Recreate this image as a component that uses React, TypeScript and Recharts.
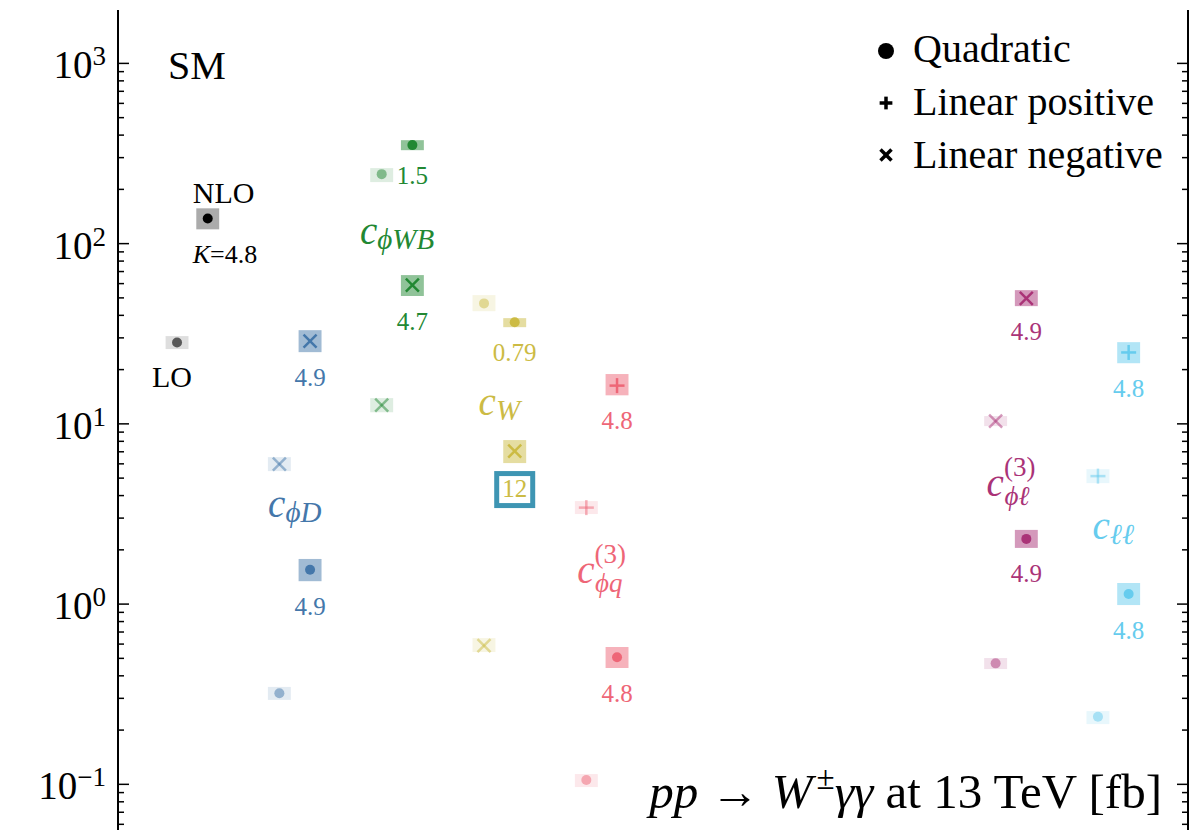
import React from 'react';
import { ScatterChart, Scatter, XAxis, YAxis, ReferenceArea, ReferenceDot } from 'recharts';

// ---------------- data ----------------
type Term = 'quad' | 'linpos' | 'linneg';
type Order = 'LO' | 'NLO';
interface Pt { order: Order; term: Term; value: number; lo: number; hi: number; k?: string; highlight?: boolean }

const GROUP_IDS = ['SM', 'cphiD', 'cphiWB', 'cW', 'cphiq3', 'cphil3', 'cll'];
const GROUP_POS = [0, 1, 2, 3, 4, 8, 9];
const NLO_SHIFT = 0.3;

const smPoints: Pt[] = [
  { order: 'LO', term: 'quad', value: 28.3, lo: 26.0, hi: 30.7 },
  { order: 'NLO', term: 'quad', value: 138, lo: 120, hi: 157, k: '4.8' },
];
const cphiDPoints: Pt[] = [
  { order: 'LO', term: 'linneg', value: 5.98, lo: 5.47, hi: 6.54 },
  { order: 'LO', term: 'quad', value: 0.32, lo: 0.294, hi: 0.347 },
  { order: 'NLO', term: 'linneg', value: 28.8, lo: 25.0, hi: 33.1, k: '4.9' },
  { order: 'NLO', term: 'quad', value: 1.55, lo: 1.34, hi: 1.78, k: '4.9' },
];
const cphiWBPoints: Pt[] = [
  { order: 'LO', term: 'quad', value: 243, lo: 219.5, hi: 262.5 },
  { order: 'NLO', term: 'quad', value: 352, lo: 330, hi: 375, k: '1.5' },
  { order: 'LO', term: 'linneg', value: 12.7, lo: 11.6, hi: 13.9 },
  { order: 'NLO', term: 'linneg', value: 58.9, lo: 51.2, hi: 66.9, k: '4.7' },
];
const cWPoints: Pt[] = [
  { order: 'LO', term: 'quad', value: 46.6, lo: 42.2, hi: 51.8 },
  { order: 'NLO', term: 'quad', value: 36.6, lo: 34.4, hi: 38.6, k: '0.79' },
  { order: 'LO', term: 'linneg', value: 0.588, lo: 0.542, hi: 0.648 },
  { order: 'NLO', term: 'linneg', value: 7.06, lo: 6.06, hi: 8.13, k: '12', highlight: true },
];
const cphiq3Points: Pt[] = [
  { order: 'LO', term: 'linpos', value: 3.43, lo: 3.16, hi: 3.73 },
  { order: 'NLO', term: 'linpos', value: 16.3, lo: 14.4, hi: 18.9, k: '4.8' },
  { order: 'LO', term: 'quad', value: 0.1057, lo: 0.0966, hi: 0.114 },
  { order: 'NLO', term: 'quad', value: 0.507, lo: 0.442, hi: 0.578, k: '4.8' },
];
const cphil3Points: Pt[] = [
  { order: 'LO', term: 'linneg', value: 10.36, lo: 9.72, hi: 11.05 },
  { order: 'NLO', term: 'linneg', value: 49.7, lo: 45.0, hi: 55.2, k: '4.9' },
  { order: 'LO', term: 'quad', value: 0.469, lo: 0.436, hi: 0.502 },
  { order: 'NLO', term: 'quad', value: 2.3, lo: 2.05, hi: 2.58, k: '4.9' },
];
const cllPoints: Pt[] = [
  { order: 'LO', term: 'linpos', value: 5.13, lo: 4.69, hi: 5.61 },
  { order: 'NLO', term: 'linpos', value: 24.9, lo: 21.7, hi: 28.4, k: '4.8' },
  { order: 'LO', term: 'quad', value: 0.237, lo: 0.216, hi: 0.255 },
  { order: 'NLO', term: 'quad', value: 1.137, lo: 0.988, hi: 1.309, k: '4.8' },
];
const GROUP_POINTS = [smPoints, cphiDPoints, cphiWBPoints, cWPoints, cphiq3Points, cphil3Points, cllPoints];

// operator name labels (sub / sup) and the value at which they sit
const NAME_SUB = ['', 'ϕD', 'ϕWB', 'W', 'ϕq', 'ϕℓ', 'ℓℓ'];
const NAME_SUP = ['', '', '', '', '(3)', '(3)', ''];
const NAME_Y = [0, 3.04, 100, 11.2, 1.31, 3.98, 2.3];
const NAME_SHIFT = 0.15;

const MAJOR_TICKS = [0.1, 1, 10, 100, 1000];
const MINOR_TICKS = [0.06, 0.07, 0.08, 0.09, 0.2, 0.3, 0.4, 0.5, 0.6, 0.7, 0.8, 0.9,
  2, 3, 4, 5, 6, 7, 8, 9, 20, 30, 40, 50, 60, 70, 80, 90, 200, 300, 400, 500, 600, 700, 800, 900];
const X_DOMAIN = [-0.577, 9.88];
const Y_DOMAIN = [0.0558, 1978];

const LEGEND_ITEMS: { term: Term; label: string }[] = [
  { term: 'quad', label: 'Quadratic' },
  { term: 'linpos', label: 'Linear positive' },
  { term: 'linneg', label: 'Linear negative' },
];

// ---------------- styles ----------------
const FONT = "'Liberation Serif', 'Times New Roman', 'DejaVu Serif', serif";
const TXT: React.CSSProperties = { fontFamily: FONT };
const GROUP_COLORS = ['#000000', '#4477AA', '#228833', '#CCBB44', '#EE6677', '#AA3377', '#66CCEE'];
const STYLE_SM = { markLO: 0.6, boxLO: 0.13, boxNLO: 0.33 };
const STYLE_DEF = { markLO: 0.5, boxLO: 0.15, boxNLO: 0.5 };
const BOX_HALF = 0.112;
const W = 1198;
const H = 830;
const AX_L = 118;
const AX_R = 1188;

const ALL_TICKS = [...MAJOR_TICKS, ...MINOR_TICKS].sort((a, b) => a - b);

function Marker({ cx, cy, term, color, opacity, scale = 1, sw = 2.5 }: any) {
  if (cx == null || cy == null) return null;
  if (term === 'quad') return <circle cx={cx} cy={cy} r={5 * scale} fill={color} fillOpacity={opacity} />;
  const a = 7.5 * scale;
  if (term === 'linpos')
    return (
      <g stroke={color} strokeOpacity={opacity} strokeWidth={sw}>
        <line x1={cx - a} y1={cy} x2={cx + a} y2={cy} />
        <line x1={cx} y1={cy - a} x2={cx} y2={cy + a} />
      </g>
    );
  const d = 6.5 * scale;
  return (
    <g stroke={color} strokeOpacity={opacity} strokeWidth={sw}>
      <line x1={cx - d} y1={cy - d} x2={cx + d} y2={cy + d} />
      <line x1={cx - d} y1={cy + d} x2={cx + d} y2={cy - d} />
    </g>
  );
}

function expText(v: number) {
  const e = Math.round(Math.log10(v));
  return e < 0 ? '\u2212' + Math.abs(e) : String(e);
}

const LeftTick = (props: any) => {
  const { y, payload } = props;
  const v = payload.value;
  const major = MAJOR_TICKS.includes(v);
  return (
    <g>
      <line x1={AX_L} x2={AX_L + (major ? 11 : 6)} y1={y} y2={y} stroke="#000" strokeWidth={1.5} />
      {major && (
        <text x={AX_L - 12} y={y + 15} textAnchor="end" style={TXT} fontSize={39} fill="#000">
          10<tspan dy={-13} fontSize={27}>{expText(v)}</tspan>
        </text>
      )}
    </g>
  );
};

const RightTick = (props: any) => {
  const { y, payload } = props;
  const major = MAJOR_TICKS.includes(payload.value);
  return <line x1={AX_R} x2={AX_R - (major ? 11 : 6)} y1={y} y2={y} stroke="#000" strokeWidth={1.5} />;
};

export default function App() {
  const boxes: React.ReactNode[] = [];
  const labels: React.ReactNode[] = [];
  const series: React.ReactNode[] = [];

  GROUP_IDS.forEach((gid, gi) => {
    const color = GROUP_COLORS[gi];
    const st = gi === 0 ? STYLE_SM : STYLE_DEF;
    const pos = GROUP_POS[gi];
    const data = GROUP_POINTS[gi].map((p) => ({ ...p, x: pos + (p.order === 'NLO' ? NLO_SHIFT : 0), y: p.value }));

    data.forEach((p, i) => {
      boxes.push(
        <ReferenceArea
          key={`${gid}-box-${i}`}
          x1={p.x - BOX_HALF}
          x2={p.x + BOX_HALF}
          y1={p.lo}
          y2={p.hi}
          fill={color}
          fillOpacity={p.order === 'NLO' ? st.boxNLO : st.boxLO}
          stroke="none"
        />
      );
      if (p.k) {
        const isSM = gi === 0;
        labels.push(
          <ReferenceDot
            key={`${gid}-k-${i}`}
            x={p.x}
            y={p.lo}
            r={0}
            shape={(sp: any) => (
              <g>
                {p.highlight && (
                  <rect x={sp.cx - 18} y={sp.cy + 34 - 23.5} width={36} height={32} fill="none" stroke="#3E95B3" strokeWidth={5} />
                )}
                {isSM ? (
                  <text x={sp.cx - 15} y={sp.cy + 34} style={TXT} fontSize={26} fill={color}>
                    <tspan fontStyle="italic">K</tspan>={p.k}
                  </text>
                ) : (
                  <text x={sp.cx} y={sp.cy + 34} textAnchor="middle" style={TXT} fontSize={25} fill={color}>
                    {p.k}
                  </text>
                )}
              </g>
            )}
          />
        );
      }
      if (gi === 0) {
        labels.push(
          <ReferenceDot
            key={`${gid}-tag-${i}`}
            x={p.x}
            y={p.order === 'NLO' ? p.hi : p.lo}
            r={0}
            shape={(sp: any) =>
              p.order === 'NLO' ? (
                <text x={sp.cx - 15} y={sp.cy - 5} style={TXT} fontSize={30} fill="#000">NLO</text>
              ) : (
                <text x={sp.cx - 5} y={sp.cy + 38} textAnchor="middle" style={TXT} fontSize={30} fill="#000">LO</text>
              )
            }
          />
        );
      }
    });

    if (gi > 0) {
      const sub = NAME_SUB[gi];
      const sup = NAME_SUP[gi];
      labels.push(
        <ReferenceDot
          key={`${gid}-name`}
          x={pos + NAME_SHIFT}
          y={NAME_Y[gi]}
          r={0}
          shape={(sp: any) => (
            <text x={sp.cx} y={sp.cy} textAnchor="middle" style={TXT} fontSize={39} fontStyle="italic" fill={color}>
              c
              {sup ? (
                <>
                  <tspan fontSize={27} fontStyle="normal" dy={-20}>{sup}</tspan>
                  <tspan fontSize={27} dx={-31} dy={29}>{sub}</tspan>
                </>
              ) : (
                <tspan fontSize={29} dy={5}>{sub}</tspan>
              )}
            </text>
          )}
        />
      );
    }

    series.push(
      <Scatter
        key={`${gid}-sc`}
        name={gid}
        data={data}
        isAnimationActive={false}
        shape={(sp: any) => (
          <Marker
            cx={sp.cx}
            cy={sp.cy}
            term={sp.payload.term}
            color={color}
            opacity={sp.payload.order === 'LO' ? st.markLO : 1}
          />
        )}
      />
    );
  });

  return (
    <div style={{ position: 'absolute', left: 0, top: 0, width: W, height: H, background: '#fff' }}>
      <ScatterChart width={W} height={H} margin={{ top: 10, right: 0, bottom: 0, left: 0 }}>
        <XAxis type="number" dataKey="x" domain={X_DOMAIN} allowDataOverflow hide />
        <XAxis
          xAxisId="top"
          orientation="top"
          type="number"
          domain={X_DOMAIN}
          allowDataOverflow
          height={0}
          tick={false}
          tickLine={false}
          axisLine={{ stroke: '#000', strokeWidth: 2 }}
        />
        <YAxis
          type="number"
          dataKey="y"
          scale="log"
          domain={Y_DOMAIN}
          allowDataOverflow
          ticks={ALL_TICKS}
          interval={0}
          width={AX_L}
          tickLine={false}
          tick={<LeftTick />}
          axisLine={{ stroke: '#000', strokeWidth: 2 }}
        />
        <YAxis
          yAxisId="r"
          orientation="right"
          type="number"
          scale="log"
          domain={Y_DOMAIN}
          allowDataOverflow
          ticks={ALL_TICKS}
          interval={0}
          width={W - AX_R}
          tickLine={false}
          tick={<RightTick />}
          axisLine={{ stroke: '#000', strokeWidth: 2 }}
        />
        {boxes}
        {series}
        {labels}
      </ScatterChart>
      <svg width={W} height={H} style={{ position: 'absolute', left: 0, top: 0, pointerEvents: 'none' }}>
        <text x={168} y={79} style={TXT} fontSize={40} fill="#000">SM</text>
        {LEGEND_ITEMS.map((it, i) => (
          <g key={it.term}>
            <Marker cx={886} cy={51 + i * 52} term={it.term} color="#000" opacity={1} scale={it.term === 'quad' ? 1.6 : 0.85} sw={3.5} />
            <text x={913} y={62 + i * 53} style={TXT} fontSize={40} fill="#000">{it.label}</text>
          </g>
        ))}
        <text x={1162} y={808} textAnchor="end" style={TXT} fontSize={49} fill="#000">
          <tspan fontStyle="italic">pp</tspan> → <tspan fontStyle="italic">W</tspan>
          <tspan dx={4} dy={-19} fontSize={33}>±</tspan>
          <tspan dy={19} fontStyle="italic">γγ</tspan> at 13 TeV [fb]
        </text>
      </svg>
    </div>
  );
}
